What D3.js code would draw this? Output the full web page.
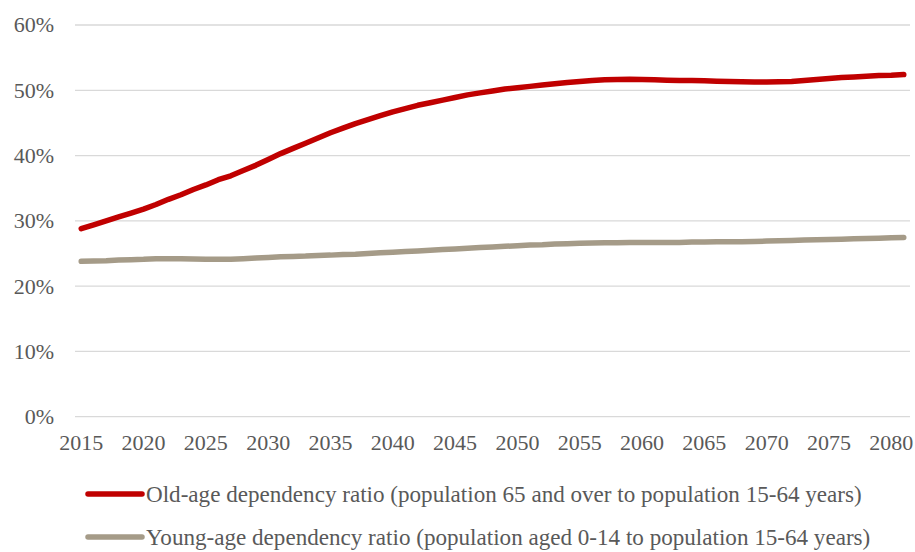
<!DOCTYPE html>
<html>
<head>
<meta charset="utf-8">
<script src="https://cdn.jsdelivr.net/npm/d3@7"></script>
</head>
<body style="margin:0">
<svg id="chart" width="915" height="552"></svg>
<script>
const years = d3.range(2015, 2082);
const tickYears = [2015, 2020, 2025, 2030, 2035, 2040, 2045, 2050, 2055, 2060, 2065, 2070, 2075, 2080];
const yTicks = [0, 0.1, 0.2, 0.3, 0.4, 0.5, 0.6];
const seriesNames = [
  "Old-age dependency ratio (population 65 and over to population 15-64 years)",
  "Young-age dependency ratio (population aged 0-14 to population 15-64 years)"
];
const oldAge = [28.8, 29.4, 30.0, 30.6, 31.2, 31.8, 32.5, 33.3, 34.0, 34.8,
  35.5, 36.3, 36.9, 37.7, 38.5, 39.4, 40.3, 41.1, 41.9, 42.7,
  43.5, 44.2, 44.9, 45.5, 46.1, 46.7, 47.2, 47.7, 48.1, 48.5,
  48.9, 49.3, 49.6, 49.9, 50.2, 50.4, 50.6, 50.8, 51.0, 51.2,
  51.35, 51.5, 51.6, 51.65, 51.7, 51.65, 51.6, 51.55, 51.5, 51.5,
  51.45, 51.4, 51.35, 51.3, 51.25, 51.25, 51.3, 51.35, 51.5, 51.65,
  51.8, 51.95, 52.05, 52.15, 52.25, 52.3, 52.4];
const youngAge = [23.8, 23.85, 23.9, 24.0, 24.05, 24.1, 24.2, 24.2, 24.2, 24.15,
  24.1, 24.1, 24.1, 24.2, 24.3, 24.4, 24.5, 24.55, 24.6, 24.7,
  24.75, 24.85, 24.9, 25.0, 25.1, 25.2, 25.3, 25.4, 25.5, 25.6,
  25.7, 25.8, 25.9, 26.0, 26.1, 26.2, 26.3, 26.35, 26.45, 26.5,
  26.55, 26.6, 26.65, 26.65, 26.7, 26.7, 26.7, 26.7, 26.7, 26.75,
  26.75, 26.8, 26.8, 26.8, 26.85, 26.9, 26.95, 27.0, 27.05, 27.1,
  27.15, 27.2, 27.25, 27.3, 27.35, 27.4, 27.45];
const colors = ["#C00000", "#A59B88"];
const TEXT = "#595959";

const svg = d3.select("#chart");
const x = d3.scalePoint().domain(years).range([75, 910]).padding(0.5);
const y = d3.scaleLinear().domain([0, 0.6]).range([416.7, 25]);

function serif(sel, size) {
  sel.style("font-family", '"Liberation Serif"').attr("font-size", size).attr("fill", TEXT);
}

// gridlines
svg.append("g").selectAll("line").data(yTicks).join("line")
  .attr("x1", 75).attr("x2", 910)
  .attr("y1", d => y(d)).attr("y2", d => y(d))
  .attr("stroke", "#D9D9D9").attr("stroke-width", 1.3);

// y axis labels (drawn from the axis generator's tick values)
const yAxis = d3.axisLeft(y).tickValues(yTicks).tickFormat(d3.format(".0%"));
svg.append("g").selectAll("text").data(yAxis.tickValues()).join("text")
  .attr("x", 54).attr("y", d => y(d)).attr("dy", "0.34em").attr("text-anchor", "end")
  .text(d => yAxis.tickFormat()(d))
  .call(serif, 22);

// x axis labels
svg.append("g").selectAll("text").data(tickYears).join("text")
  .attr("x", d => x(d)).attr("y", 433).attr("dy", "0.78em").attr("text-anchor", "middle")
  .text(d => d)
  .call(serif, 22);

// lines
const series = [oldAge, youngAge];
const line = d3.line().x((d, i) => x(years[i])).y(d => y(d / 100));
svg.append("g").selectAll("path").data(series).join("path")
  .attr("d", d => line(d))
  .attr("fill", "none")
  .attr("stroke", (d, i) => colors[i])
  .attr("stroke-width", 5.5)
  .attr("stroke-linecap", "round")
  .attr("stroke-linejoin", "round");

// legend
const legendY = [494, 537];
const lg = svg.append("g").selectAll("g").data(seriesNames).join("g")
  .attr("transform", (d, i) => `translate(0,${legendY[i]})`);
lg.append("line").attr("x1", 88).attr("x2", 142).attr("y1", 0).attr("y2", 0)
  .attr("stroke", (d, i) => colors[i]).attr("stroke-width", 5.5).attr("stroke-linecap", "round");
const lt = lg.append("text").attr("x", 146).attr("y", 0).attr("dy", "0.33em")
  .text(d => d).call(serif, 22);
const w0 = lt.node().getComputedTextLength();
lt.attr("font-size", (22 * 716 / w0).toFixed(2));
</script>
</body>
</html>
